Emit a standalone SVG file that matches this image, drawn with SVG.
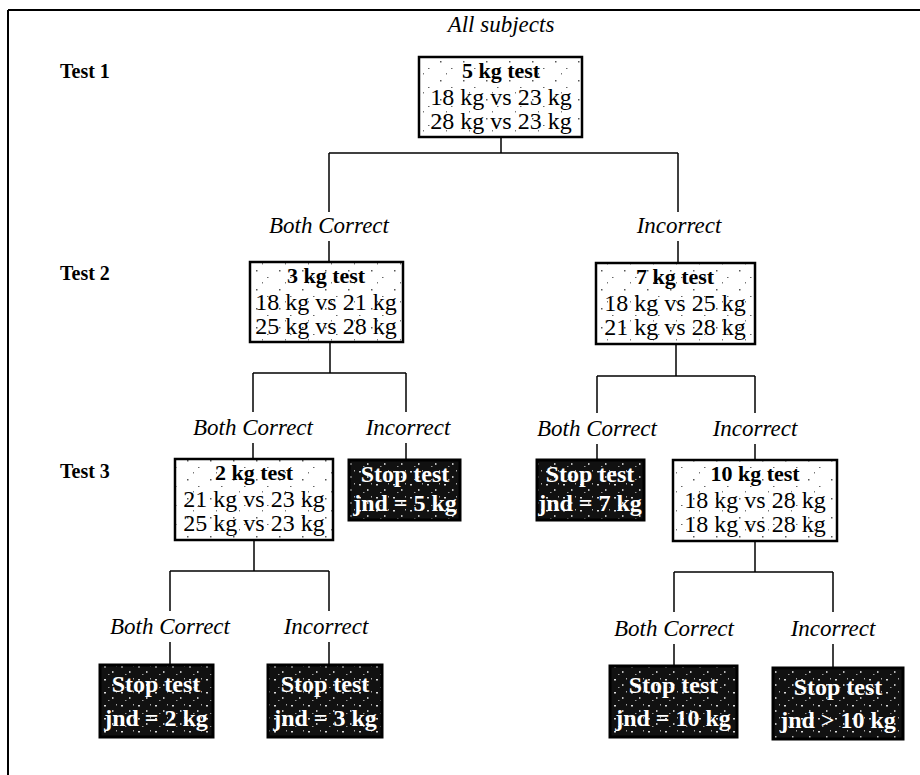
<svg xmlns="http://www.w3.org/2000/svg" width="920" height="775" viewBox="0 0 920 775">
<style>
.lbl{font-family:"Liberation Serif","Times New Roman",serif;font-style:italic;font-size:23px;fill:#000;text-anchor:middle}
.test{font-family:"Liberation Serif","Times New Roman",serif;font-weight:bold;font-size:20px;fill:#000}
.hd{font-family:"Liberation Serif","Times New Roman",serif;font-weight:bold;font-size:22px;fill:#000;text-anchor:middle}
.ln{font-family:"Liberation Serif","Times New Roman",serif;font-size:24px;fill:#000;text-anchor:middle}
.st{font-family:"Liberation Serif","Times New Roman",serif;font-weight:bold;font-size:24px;fill:#fff;text-anchor:middle}
.box{fill:url(#speck);stroke:#000;stroke-width:2.5}
.dark{fill:url(#grain);stroke:#000;stroke-width:3}
.conn line{stroke:#000;stroke-width:1.5}
</style>
<defs>
<pattern id="speck" width="23" height="19" patternUnits="userSpaceOnUse">
<rect width="23" height="19" fill="#fff"/>
<rect x="3" y="4" width="1.5" height="1.5" fill="#555"/>
<rect x="14" y="11" width="1.5" height="1" fill="#666"/>
<rect x="9" y="16" width="1" height="1.5" fill="#777"/>
</pattern>
<pattern id="grain" width="17" height="13" patternUnits="userSpaceOnUse">
<rect width="17" height="13" fill="#111"/>
<rect x="2" y="3" width="2" height="1.5" fill="#ddd"/>
<rect x="10" y="8" width="1.5" height="2" fill="#bbb"/>
<rect x="6" y="11" width="1.5" height="1" fill="#999"/>
<rect x="14" y="2" width="1" height="1.5" fill="#aaa"/>
</pattern>
</defs>
<rect width="920" height="775" fill="#fff"/>
<g id="frame">
<line x1="8" y1="10" x2="920" y2="10" stroke="#000" stroke-width="2"/>
<line x1="8" y1="10" x2="8" y2="775" stroke="#000" stroke-width="2"/>
</g>
<g id="row-labels">
<text class="test" x="60" y="78">Test 1</text>
<text class="test" x="60" y="280">Test 2</text>
<text class="test" x="60" y="478">Test 3</text>
</g>
<g id="connectors" class="conn">
<line x1="501" y1="137" x2="501" y2="153"/>
<line x1="329" y1="153" x2="678" y2="153"/>
<line x1="329" y1="153" x2="329" y2="212"/>
<line x1="329" y1="241" x2="329" y2="262"/>
<line x1="678" y1="153" x2="678" y2="212"/>
<line x1="678" y1="241" x2="678" y2="263"/>
<line x1="330" y1="342" x2="330" y2="373"/>
<line x1="253" y1="373" x2="406" y2="373"/>
<line x1="253" y1="373" x2="253" y2="412"/>
<line x1="253" y1="443" x2="253" y2="459"/>
<line x1="406" y1="373" x2="406" y2="412"/>
<line x1="406" y1="443" x2="406" y2="460"/>
<line x1="676" y1="344" x2="676" y2="376"/>
<line x1="597" y1="376" x2="755" y2="376"/>
<line x1="597" y1="376" x2="597" y2="413"/>
<line x1="597" y1="444" x2="597" y2="460"/>
<line x1="755" y1="376" x2="755" y2="413"/>
<line x1="755" y1="444" x2="755" y2="460"/>
<line x1="254" y1="540" x2="254" y2="571"/>
<line x1="170" y1="571" x2="329" y2="571"/>
<line x1="170" y1="571" x2="170" y2="611"/>
<line x1="170" y1="642" x2="170" y2="665"/>
<line x1="329" y1="571" x2="329" y2="611"/>
<line x1="329" y1="642" x2="329" y2="665"/>
<line x1="755" y1="541" x2="755" y2="572"/>
<line x1="674" y1="572" x2="833" y2="572"/>
<line x1="674" y1="572" x2="674" y2="612"/>
<line x1="674" y1="644" x2="674" y2="666"/>
<line x1="833" y1="572" x2="833" y2="612"/>
<line x1="833" y1="644" x2="833" y2="668"/>
</g>
<g id="edge-labels">
<text class="lbl" x="501" y="32">All subjects</text>
<text class="lbl" x="329" y="233">Both Correct</text>
<text class="lbl" x="679" y="233">Incorrect</text>
<text class="lbl" x="253" y="435">Both Correct</text>
<text class="lbl" x="408" y="435">Incorrect</text>
<text class="lbl" x="597" y="436">Both Correct</text>
<text class="lbl" x="755" y="436">Incorrect</text>
<text class="lbl" x="170" y="634">Both Correct</text>
<text class="lbl" x="326" y="634">Incorrect</text>
<text class="lbl" x="674" y="636">Both Correct</text>
<text class="lbl" x="833" y="636">Incorrect</text>
</g>
<g id="n-5kg">
<rect class="box" x="419" y="57" width="163" height="80"/>
<text class="hd" x="501" y="78">5 kg test</text>
<text class="ln" x="501" y="105">18 kg vs 23 kg</text>
<text class="ln" x="501" y="129">28 kg vs 23 kg</text>
</g>
<g id="n-3kg">
<rect class="box" x="250" y="262" width="153" height="80"/>
<text class="hd" x="326" y="283">3 kg test</text>
<text class="ln" x="326" y="310">18 kg vs 21 kg</text>
<text class="ln" x="326" y="334">25 kg vs 28 kg</text>
</g>
<g id="n-7kg">
<rect class="box" x="596" y="263" width="159" height="81"/>
<text class="hd" x="675" y="284">7 kg test</text>
<text class="ln" x="675" y="311">18 kg vs 25 kg</text>
<text class="ln" x="675" y="335">21 kg vs 28 kg</text>
</g>
<g id="n-2kg">
<rect class="box" x="175" y="459" width="158" height="81"/>
<text class="hd" x="254" y="480">2 kg test</text>
<text class="ln" x="254" y="507">21 kg vs 23 kg</text>
<text class="ln" x="254" y="531">25 kg vs 23 kg</text>
</g>
<g id="n-stop5">
<rect class="dark" x="349" y="460" width="111" height="60"/>
<text class="st" x="405" y="482">Stop test</text>
<text class="st" x="405" y="511">jnd = 5 kg</text>
</g>
<g id="n-stop7">
<rect class="dark" x="537" y="460" width="107" height="60"/>
<text class="st" x="590" y="482">Stop test</text>
<text class="st" x="590" y="511">jnd = 7 kg</text>
</g>
<g id="n-10kg">
<rect class="box" x="673" y="460" width="164" height="81"/>
<text class="hd" x="755" y="481">10 kg test</text>
<text class="ln" x="755" y="508">18 kg vs 28 kg</text>
<text class="ln" x="755" y="532">18 kg vs 28 kg</text>
</g>
<g id="n-stop2">
<rect class="dark" x="100" y="665" width="113" height="72"/>
<text class="st" x="156" y="692">Stop test</text>
<text class="st" x="156" y="726">jnd = 2 kg</text>
</g>
<g id="n-stop3">
<rect class="dark" x="268" y="665" width="114" height="72"/>
<text class="st" x="325" y="692">Stop test</text>
<text class="st" x="325" y="726">jnd = 3 kg</text>
</g>
<g id="n-stop10">
<rect class="dark" x="610" y="666" width="127" height="71"/>
<text class="st" x="673" y="693">Stop test</text>
<text class="st" x="673" y="726">jnd = 10 kg</text>
</g>
<g id="n-stopgt10">
<rect class="dark" x="773" y="668" width="130" height="71"/>
<text class="st" x="838" y="695">Stop test</text>
<text class="st" x="838" y="728">jnd &gt; 10 kg</text>
</g>
</svg>
